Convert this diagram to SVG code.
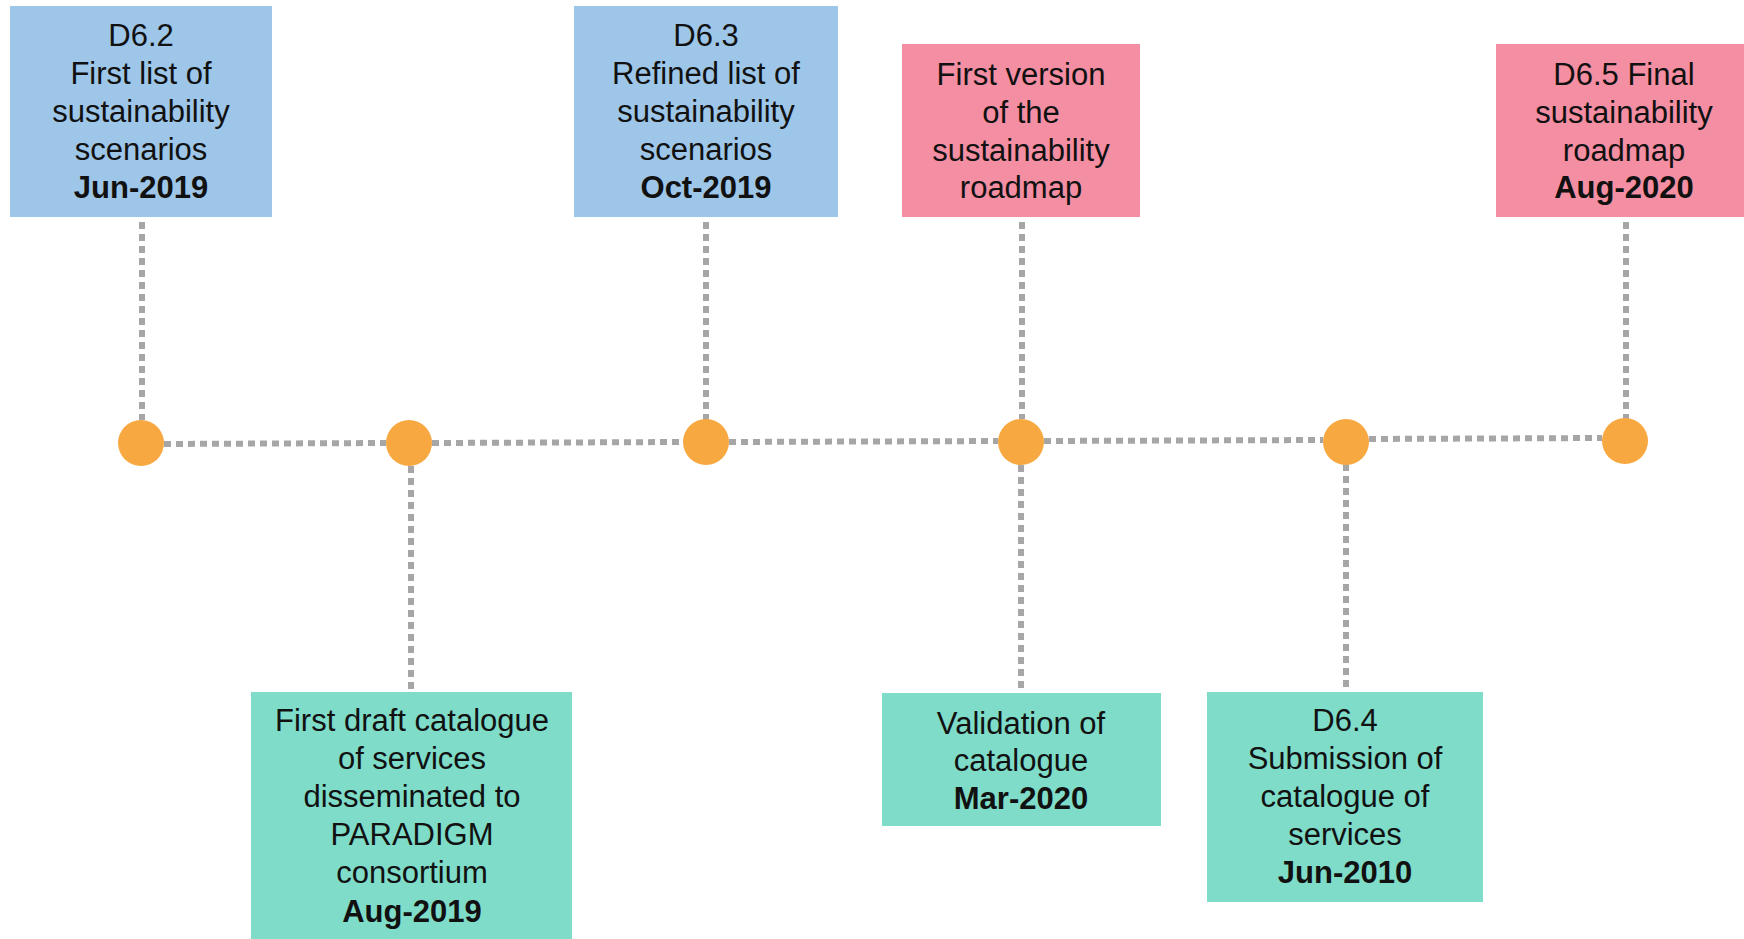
<svg xmlns="http://www.w3.org/2000/svg" width="1744" height="939" viewBox="0 0 1744 939">
<style>
.t{font-family:"Liberation Sans",Arial,sans-serif;font-size:31px;fill:#111;text-anchor:middle}
.b{font-weight:bold}
.blue{fill:#9dc6e8}
.pink{fill:#f48ea2}
.teal{fill:#7edcc9}
.dot{fill:#f8a840}
.c{stroke:#a6a6a6;stroke-width:6;stroke-dasharray:7 5;fill:none}
</style>
<rect width="1744" height="939" fill="#fff"/>
<g id="connectors">
<path class="c" d="M164 444 L386 443"/>
<path class="c" d="M432 443 L683 442"/>
<path class="c" d="M729 442 L998 441"/>
<path class="c" d="M1044 441 L1323 440"/>
<path class="c" d="M1369 439 L1602 438"/>
<path class="c" d="M142 222 L142 420"/>
<path class="c" d="M706 222 L706 420"/>
<path class="c" d="M1022 222 L1022 419"/>
<path class="c" d="M1626 222 L1626 419"/>
<path class="c" d="M411 466 L411 690"/>
<path class="c" d="M1021 465 L1021 690"/>
<path class="c" d="M1346 464 L1346 690"/>
</g>
<g id="dots">
<circle class="dot" cx="141" cy="443" r="23"/>
<circle class="dot" cx="409" cy="443" r="23"/>
<circle class="dot" cx="706" cy="442" r="23"/>
<circle class="dot" cx="1021" cy="442" r="23"/>
<circle class="dot" cx="1346" cy="442" r="23"/>
<circle class="dot" cx="1625" cy="441" r="23"/>
</g>
<g id="d62">
<rect class="blue" x="10" y="6" width="262" height="211"/>
<text class="t" x="141" y="46">D6.2</text>
<text class="t" x="141" y="84">First list of</text>
<text class="t" x="141" y="122">sustainability</text>
<text class="t" x="141" y="160">scenarios</text>
<text class="t b" x="141" y="198">Jun-2019</text>
</g>
<g id="d63">
<rect class="blue" x="574" y="6" width="264" height="211"/>
<text class="t" x="706" y="46">D6.3</text>
<text class="t" x="706" y="84">Refined list of</text>
<text class="t" x="706" y="122">sustainability</text>
<text class="t" x="706" y="160">scenarios</text>
<text class="t b" x="706" y="198">Oct-2019</text>
</g>
<g id="roadmap1">
<rect class="pink" x="902" y="44" width="238" height="173"/>
<text class="t" x="1021" y="85">First version</text>
<text class="t" x="1021" y="123">of the</text>
<text class="t" x="1021" y="161">sustainability</text>
<text class="t" x="1021" y="198">roadmap</text>
</g>
<g id="d65">
<rect class="pink" x="1496" y="44" width="248" height="173"/>
<text class="t" x="1624" y="85">D6.5 Final</text>
<text class="t" x="1624" y="123">sustainability</text>
<text class="t" x="1624" y="161">roadmap</text>
<text class="t b" x="1624" y="198">Aug-2020</text>
</g>
<g id="draft">
<rect class="teal" x="251" y="692" width="321" height="247"/>
<text class="t" x="412" y="731">First draft catalogue</text>
<text class="t" x="412" y="769">of services</text>
<text class="t" x="412" y="807">disseminated to</text>
<text class="t" x="412" y="845">PARADIGM</text>
<text class="t" x="412" y="883">consortium</text>
<text class="t b" x="412" y="922">Aug-2019</text>
</g>
<g id="validation">
<rect class="teal" x="882" y="693" width="279" height="133"/>
<text class="t" x="1021" y="734">Validation of</text>
<text class="t" x="1021" y="771">catalogue</text>
<text class="t b" x="1021" y="809">Mar-2020</text>
</g>
<g id="d64">
<rect class="teal" x="1207" y="692" width="276" height="210"/>
<text class="t" x="1345" y="731">D6.4</text>
<text class="t" x="1345" y="769">Submission of</text>
<text class="t" x="1345" y="807">catalogue of</text>
<text class="t" x="1345" y="845">services</text>
<text class="t b" x="1345" y="883">Jun-2010</text>
</g>
</svg>
